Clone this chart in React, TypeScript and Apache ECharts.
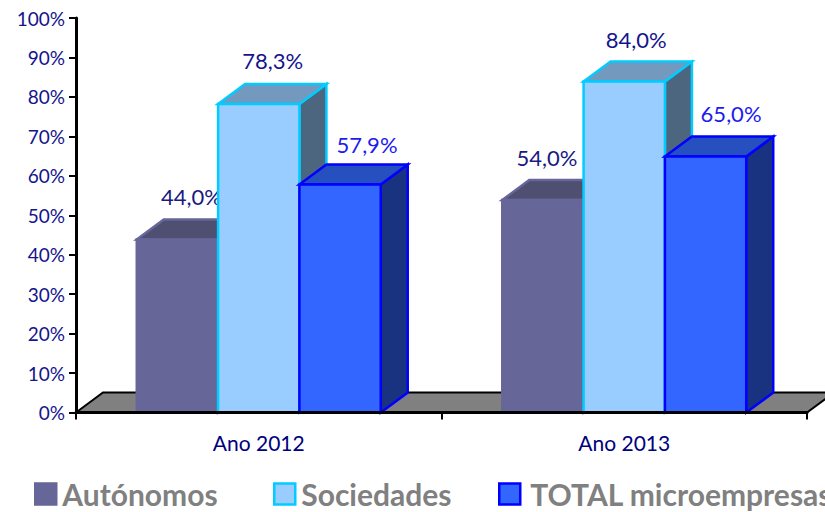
import React, { useEffect, useRef } from "react";
import * as echarts from "echarts";

const categories = ["Ano 2012", "Ano 2013"];
const autonomos = [44.0, 54.0];
const sociedades = [78.3, 84.0];
const total = [57.9, 65.0];
const yMax = 100;
const yStep = 10;

const FONT = "Lato";
const DEPTH_X = 27;
const DEPTH_Y = 20;
const BAR_RATIO = 0.2225;

const styles = [
  { name: "Autónomos", front: "#666699", top: "#4F4F72", side: "#4D4D73", border: "#666699", label: "#1A1A80", labelOffset: [[14, -23], [4, -22]], legendPad: 1 },
  { name: "Sociedades", front: "#99CCFF", top: "#7399BF", side: "#4C6680", border: "#00CCFF", label: "#14148C", labelOffset: [[14, -24], [12, -22]], legendPad: 1 },
  { name: "TOTAL microempresas", front: "#3366FF", top: "#2650BF", side: "#1A3380", border: "#0000FF", label: "#1C1CF0", labelOffset: [[27, -20], [25.5, -23]], legendPad: 5 },
];
const seriesValues = [autonomos, sociedades, total];
const legendLeft = [34, 273, 498];

const fmt = (v: number) => v.toFixed(1).replace(".", ",") + "%";

const barRenderer = (idx: number) => (params: any, api: any) => {
  const cat = api.value(0);
  const val = api.value(1);
  const band = api.size([1, 0])[0];
  const w = band * BAR_RATIO;
  const [cx, yTop0] = api.coord([cat, val]);
  const yTop = yTop0 + 0.5;
  const [, yBase] = api.coord([cat, 0]);
  const x0 = cx + (idx - 1) * w - w / 2;
  const x1 = x0 + w;
  const s = styles[idx];
  const line = { stroke: s.border, lineWidth: 2.5, lineJoin: "miter" };
  const off = s.labelOffset[params.dataIndex];
  return {
    type: "group",
    children: [
      {
        type: "polygon",
        shape: { points: [[x1, yBase], [x1 + DEPTH_X, yBase - DEPTH_Y], [x1 + DEPTH_X, yTop - DEPTH_Y], [x1, yTop]] },
        style: { fill: s.side, ...line },
      },
      {
        type: "polygon",
        shape: { points: [[x0, yTop], [x0 + DEPTH_X, yTop - DEPTH_Y], [x1 + DEPTH_X, yTop - DEPTH_Y], [x1, yTop]] },
        style: { fill: s.top, ...line },
      },
      {
        type: "polygon",
        shape: { points: [[x0, yTop], [x1, yTop], [x1, yBase], [x0, yBase]] },
        style: { fill: s.front, ...line },
      },
      {
        type: "text",
        z2: 50,
        style: {
          text: fmt(val),
          x: cx + (idx - 1) * w + off[0],
          y: yTop - DEPTH_Y + off[1],
          align: "center",
          verticalAlign: "middle",
          fill: s.label,
          font: `22px ${FONT}`,
        },
      },
    ],
  };
};

const floorRenderer = (params: any) => {
  const { x, y, width, height } = params.coordSys;
  const b = y + height;
  return {
    type: "polygon",
    shape: {
      points: [[x, b], [x + DEPTH_X, b - DEPTH_Y], [x + width + DEPTH_X, b - DEPTH_Y], [x + width, b]],
    },
    style: { fill: "#808080", stroke: "#000000", lineWidth: 2 },
  };
};

export default function App() {
  const ref = useRef<HTMLDivElement>(null);
  useEffect(() => {
    document.body.style.margin = "0";
    const chart = echarts.init(ref.current!, null, { renderer: "svg" });
    chart.setOption({
      animation: false,
      backgroundColor: "#ffffff",
      textStyle: { fontFamily: FONT },
      grid: { left: 76, top: 18, width: 731, height: 394.5, containLabel: false },
      legend: styles.map((s, i) => ({
        left: legendLeft[i],
        top: 479,
        padding: 0,
        itemWidth: 21,
        itemHeight: 21,
        itemGap: 0,
        selectedMode: false,
        icon: "rect",
        data: [
          {
            name: s.name,
            itemStyle: { color: s.front, borderColor: s.border, borderWidth: 2.5 },
          },
        ],
        textStyle: { color: "#808080", fontSize: 30, fontWeight: "bold", fontFamily: FONT, padding: [0, 0, 0, s.legendPad] },
      })),
      xAxis: {
        type: "category",
        data: categories,
        z: 10,
        axisLine: { lineStyle: { color: "#000000", width: 3 } },
        axisTick: { show: true, length: 7, lineStyle: { color: "#000000", width: 2 } },
        axisLabel: { color: "#000080", fontSize: 21, fontFamily: FONT, margin: 19 },
      },
      yAxis: {
        type: "value",
        min: 0,
        max: yMax,
        interval: yStep,
        z: 10,
        splitLine: { show: false },
        axisLine: { show: true, lineStyle: { color: "#000000", width: 3 } },
        axisTick: { show: true, length: 7, lineStyle: { color: "#000000", width: 2 } },
        axisLabel: { color: "#14148C", fontSize: 19, fontFamily: FONT, margin: 11, formatter: "{value}%" },
      },
      series: [
        {
          name: "floor",
          type: "custom",
          z: 1,
          silent: true,
          clip: false,
          renderItem: floorRenderer,
          data: [[0, 0]],
          encode: { x: 0, y: 1 },
        },
        ...styles.map((s, i) => ({
          name: s.name,
          type: "custom",
          z: 2 + i,
          silent: true,
          clip: false,
          itemStyle: { color: s.front },
          renderItem: barRenderer(i),
          data: categories.map((_, c) => [c, seriesValues[i][c]]),
          encode: { x: 0, y: 1 },
        })),
      ],
    });
    return () => chart.dispose();
  }, []);
  return <div ref={ref} style={{ width: 825, height: 512 }} />;
}
